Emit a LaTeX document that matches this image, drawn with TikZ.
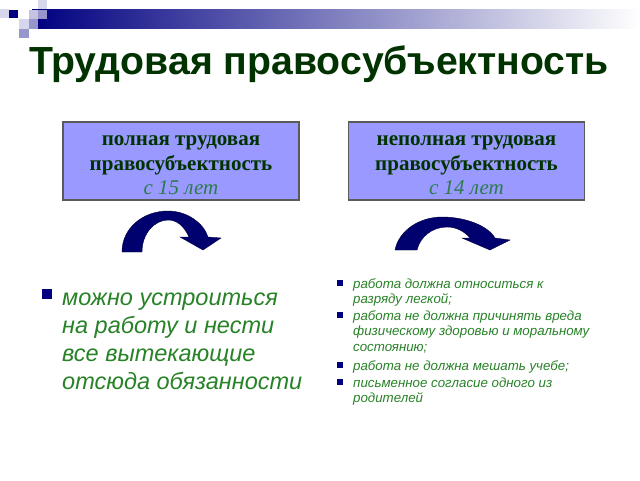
\documentclass[tikz,border=0pt]{standalone}
\usepackage{fontspec}
\setmainfont{Liberation Serif}
\newfontfamily\arialf{Liberation Sans}
\usetikzlibrary{shapes.geometric}
\definecolor{navy}{RGB}{0,0,128}
\definecolor{arrowblue}{RGB}{0,0,110}
\definecolor{titlegreen}{RGB}{0,51,0}
\definecolor{boxfill}{RGB}{153,153,255}
\definecolor{boxtext}{RGB}{0,51,0}
\definecolor{agegreen}{RGB}{45,122,74}
\definecolor{listgreen}{RGB}{40,130,40}
\definecolor{sqA}{RGB}{214,214,236}
\definecolor{sqB}{RGB}{196,196,226}
\definecolor{sqC}{RGB}{150,150,204}
\newcommand{\firstbase}[2]{\parbox[t]{#1}{\raggedright #2}}
\begin{document}
\begin{tikzpicture}[x=1pt,y=-1pt,
  box/.style={draw={rgb,255:red,90;green,90;blue,90},line width=1.2pt,fill=boxfill,minimum width=236pt,minimum height=78pt,inner sep=0pt},
  boxlabel/.style={align=center,text=boxtext,font=\bfseries\fontsize{21}{24.5}\selectfont,inner sep=0pt},
  bigitem/.style={anchor=base west,text=listgreen,font=\arialf\itshape\fontsize{23.5}{28}\selectfont,inner sep=0pt},
  smallitem/.style={anchor=base west,text=listgreen,font=\arialf\itshape\fontsize{13.3}{15.5}\selectfont,inner sep=0pt},
  curvarrow/.style={fill=arrowblue,draw={rgb,255:red,0;green,0;blue,60},line width=0.4pt}]
\useasboundingbox (0,0) rectangle (640,480);
\fill[white] (0,0) rectangle (640,480);
% top decoration
\shade[left color=navy,right color=white] (32,9) rectangle (640,28.5);
\fill[sqA] (0,9) rectangle (8.5,18);
\fill[navy] (9,10) rectangle (18,18);
\fill[sqB] (28.5,9.5) rectangle (37.5,18.5);
\fill[sqC] (37.5,9.5) rectangle (47,18.5);
\fill[sqA] (38,0) rectangle (47,8.5);
\fill[sqA] (19,19) rectangle (28.5,28.5);
\fill[sqC] (28.5,19) rectangle (37.5,28.5);
\fill[sqC] (19,28.5) rectangle (28.5,38);
% title
\node (title) at (319,64) {\arialf\bfseries\fontsize{39.2}{44}\selectfont\color{titlegreen}Трудовая правосубъектность};
% boxes
\node[box] (b1) at (181,161) {};
\node[box] (b2) at (466.5,161) {};
\node[boxlabel] (t1) at (181,165.5) {полная трудовая\\правосубъектность\\{\mdseries\itshape\color{agegreen}с 15 лет}};
\node[boxlabel] (t2) at (466.5,165.5) {неполная трудовая\\правосубъектность\\{\mdseries\itshape\color{agegreen}с 14 лет}};
% curved arrows
\path[curvarrow] (122,252) .. controls (122,228) and (143,211) .. (168,211)
  .. controls (188,211) and (204,224) .. (208,237) -- (221,238) -- (203,250) -- (180,237) -- (189,237)
  .. controls (184,226) and (177,220) .. (168,220)
  .. controls (155,220) and (142,233) .. (142,252) -- cycle;
\path[curvarrow] (395,250) .. controls (399,230) and (420,217) .. (442,217)
  .. controls (466,217) and (488,226) .. (495,238) -- (510,240) -- (490,250) -- (462,238) -- (470,238)
  .. controls (465,232) and (457,227) .. (447,227)
  .. controls (432,227) and (420,237) .. (417,250) -- cycle;
% left list
\fill[navy] (42,289) rectangle (52,299);
\node[bigitem] (l1) at (62,305) {\firstbase{260pt}{можно устроиться\\на работу и нести\\все вытекающие\\отсюда обязанности}};
% right list
\fill[navy] (337,280) rectangle (343,286);
\node[smallitem] (r1) at (353,288) {\firstbase{280pt}{работа должна относиться к\\разряду легкой;}};
\fill[navy] (337,312) rectangle (343,318);
\node[smallitem] (r2) at (353,320) {\firstbase{280pt}{работа не должна причинять вреда\\физическому здоровью и моральному\\состоянию;}};
\fill[navy] (337,362) rectangle (343,368);
\node[smallitem] (r3) at (353,370) {\firstbase{280pt}{работа не должна мешать учебе;}};
\fill[navy] (337,379) rectangle (343,385);
\node[smallitem] (r4) at (353,387) {\firstbase{280pt}{письменное согласие одного из\\родителей}};
\end{tikzpicture}
\end{document}
